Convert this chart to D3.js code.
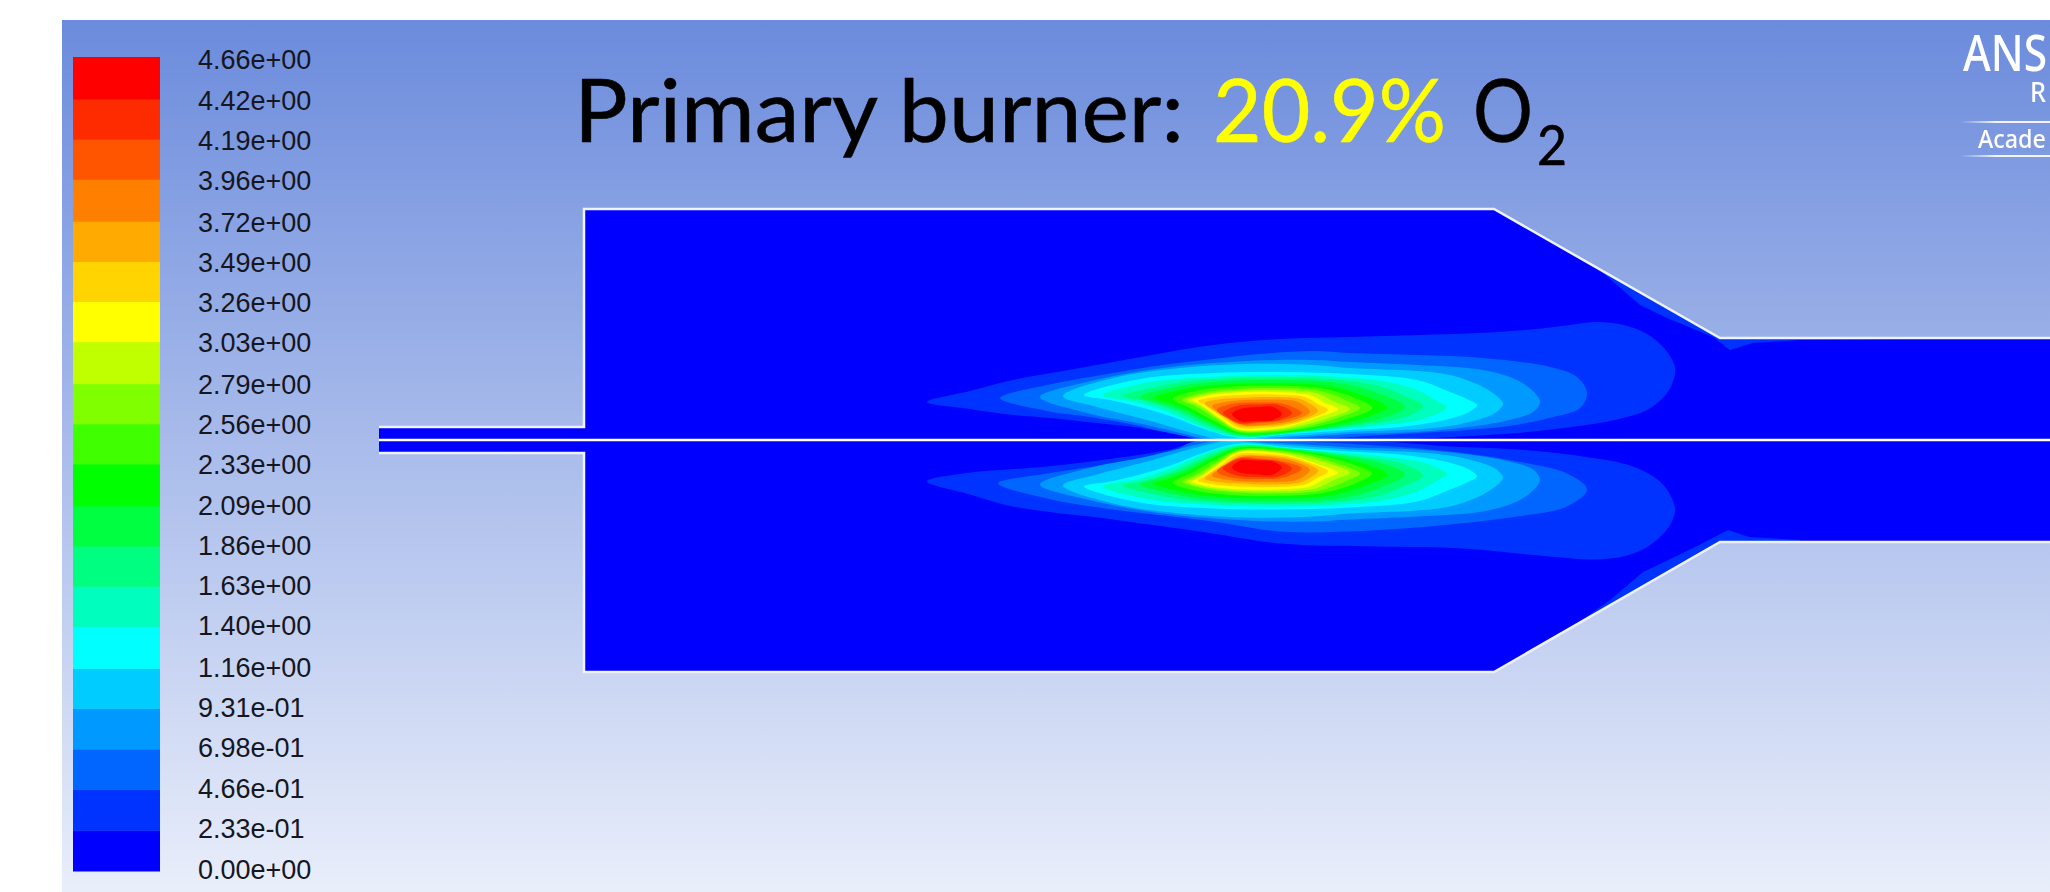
<!DOCTYPE html>
<html>
<head>
<meta charset="utf-8">
<script src="https://cdn.jsdelivr.net/npm/d3@7"></script>
<style>
  html, body { margin: 0; padding: 0; background: #fff; overflow: hidden; }
  svg { display: block; }
</style>
</head>
<body>
<div id="chart"></div>
<script>
// contour levels, bottom to top, as they are printed beside the colour bar
var levelLabels = ["0.00e+00", "2.33e-01", "4.66e-01", "6.98e-01", "9.31e-01", "1.16e+00", "1.40e+00",
  "1.63e+00", "1.86e+00", "2.09e+00", "2.33e+00", "2.56e+00", "2.79e+00", "3.03e+00", "3.26e+00",
  "3.49e+00", "3.72e+00", "3.96e+00", "4.19e+00", "4.42e+00", "4.66e+00"];

var bandColors = ["#0000ff", "#0033ff", "#0066ff", "#0099ff", "#00ccff", "#00ffff", "#00ffbf",
  "#00ff80", "#00ff40", "#00ff00", "#40ff00", "#80ff00", "#bfff00", "#ffff00", "#ffd400",
  "#ffaa00", "#ff8000", "#ff5500", "#ff2b00", "#ff0000"];

// burner walls as [axial, radius]
var upperWall = [[0, 13], [205, 13], [205, 231], [1115, 231], [1341, 102], [1671, 102]];
var lowerWall = [[0, 13], [205, 13], [205, 232], [1115, 232], [1341, 102], [1671, 102]];

// thin band that hugs the cone wall
var upperSliver = [[1218, 172], [1238, 155], [1261, 135], [1288, 122], [1334, 103], [1351, 90], [1374, 97],
  [1421, 100], [1521, 101], [1521, 120], [1218, 190]];
var lowerSliver = [[1196, 185], [1231, 160], [1264, 132], [1304, 113], [1324, 103], [1349, 90], [1370, 97],
  [1421, 100], [1421, 120], [1300, 200], [1196, 200]];

// contour outlines, [axial, radius], one per colour above the base blue
var upperContours = [
  [[548,38],[591,49],[634,60],[684,69],[734,78],[784,87],[834,95],[901,101],[971,103],[1041,105],[1098,107],[1158,111],[1191,115],[1218,118],[1245,115],[1268,106],[1285,92],[1295,76],[1296,66],[1288,47],[1268,30],[1240,21],[1214,16],[1138,7],[1071,3],[1001,0],[821,0],[801,5],[761,12],[718,17],[671,22],[634,25],[591,31]],
  [[621,42],[668,55],[711,63],[751,70],[791,76],[834,81],[881,86],[934,89],[971,87],[1038,85],[1104,82],[1171,73],[1198,63],[1208,47],[1201,32],[1170,22],[1130,14],[1088,10],[1004,5],[921,0],[826,0],[811,3],[781,9],[751,16],[711,23],[668,29]],
  [[661,43],[708,58],[784,72],[868,79],[934,80],[971,78],[1038,75],[1104,70],[1138,60],[1155,48],[1161,38],[1154,28],[1130,20],[1104,15],[1038,8],[971,6],[911,2],[836,0],[818,3],[768,15],[708,27]],
  [[684,44],[734,62],[801,72],[868,76],[934,75],[971,72],[1038,69],[1071,65],[1104,53],[1120,42],[1124,36],[1116,27],[1090,18],[1054,12],[971,8],[901,3],[846,0],[821,5],[768,20],[718,33]],
  [[705,45],[761,61],[834,67],[894,68],[971,66],[1038,60],[1071,48],[1090,40],[1098,35],[1090,28],[1066,20],[1021,13],[971,10],[911,6],[861,2],[828,10],[794,23],[761,33],[731,40]],
  [[724,45],[771,58],[811,62],[894,65],[961,63],[1004,59],[1038,50],[1060,38],[1068,33],[1048,22],[1004,15],[921,8],[861,3],[828,11],[794,26],[761,37]],
  [[744,44],[786,55],[821,60],[894,62.5],[961,60],[1004,53],[1026,44],[1044,34],[1026,23],[981,15],[921,8],[861,4],[831,13],[796,29],[766,39]],
  [[761,43],[796,53],[831,58],[894,60],[961,57],[996,48],[1026,33],[1000,21],[955,13],[905,7],[861,5],[833,15],[801,30],[776,38]],
  [[774,42],[806,51],[836,55],[894,57],[951,54],[986,44],[1008,33],[985,22],[945,13],[900,7],[861,6],[835,16],[806,31],[786,38]],
  [[794,41],[816,49],[846,53],[894,54.5],[946,51],[976,42],[993,32],[968,21],[935,13],[894,7.5],[861,7.5],[837,18],[811,32]],
  [[803,40],[824,47],[851,50.5],[894,52],[941,49],[966,40],[981,32],[958,22],[930,14],[894,9],[859,9],[839,20],[816,34]],
  [[808,40],[828,46],[853,49],[894,50],[936,47],[956,38],[971,31],[950,22],[925,15],[894,10],[859,10],[839,22],[819,35]],
  [[813,40],[831,45],[856,47.5],[894,48],[931,45],[946,37],[959,31],[940,23],[915,15],[894,11],[859,11],[839,23],[821,36]],
  [[819,39],[836,43],[859,45],[894,45.5],[926,43],[939,36],[949,30],[930,21],[910,15],[890,12.5],[859,12.5],[843,23],[827,34]],
  [[826,37],[839,40.5],[861,42],[894,43],[921,41],[933,35],[939,29],[922,20],[900,15],[880,14],[861,14],[846,23],[833,31]],
  [[833,34],[846,38],[866,40],[894,40.5],[916,39],[926,34],[931,28],[915,20],[895,16],[864,15],[849,23]],
  [[838,30],[852,36],[880,37.5],[905,36],[923,27],[905,20],[880,17],[861,16],[848,22]],
  [[844,27],[857,34],[880,35.5],[900,35],[913,27],[900,20],[880,18],[861,17],[850,22]],
  [[853,26],[861,31],[880,33],[894,33],[903,26],[894,20],[876,19],[861,19]]
];

// the two outer bands differ enough below the axis to get their own outlines
var lowerOuterContours = [
  [[548,40],[584,32],[668,25],[734,17],[791,8],[811,2],[826,0],[1001,0],[1071,5],[1138,8],[1204,15],[1254,25],[1281,40],[1293,57],[1296,70],[1290,85],[1272,103],[1248,114],[1218,118],[1171,115],[1084,107],[1001,105],[901,102],[834,92],[734,78],[634,65],[591,53]],
  [[619,42],[668,32],[734,22],[794,10],[815,0],[921,0],[1071,10],[1138,20],[1188,32],[1208,48],[1188,65],[1138,75],[1071,83],[971,90],[901,90],[834,80],[734,68],[668,57]]
];

var width = 2050;
var height = 892;
var axisY = 440;

var svg = d3.select("#chart")
  .append("svg")
  .attr("width", width)
  .attr("height", height);

var defs = svg.append("defs");

var bg = defs.append("linearGradient")
  .attr("id", "bg")
  .attr("x1", 0).attr("y1", 0)
  .attr("x2", 0).attr("y2", 1);
bg.append("stop").attr("offset", "0%").attr("stop-color", "#6b8bdc");
bg.append("stop").attr("offset", "100%").attr("stop-color", "#e9eefa");

var fade = defs.append("linearGradient").attr("id", "fade");
fade.append("stop").attr("offset", "0%").attr("stop-color", "#fff").attr("stop-opacity", 0);
fade.append("stop").attr("offset", "40%").attr("stop-color", "#fff").attr("stop-opacity", 0.9);
fade.append("stop").attr("offset", "100%").attr("stop-color", "#fff").attr("stop-opacity", 0.9);

defs.append("filter").attr("id", "soft")
  .append("feGaussianBlur").attr("stdDeviation", 0.6);

svg.append("rect")
  .attr("x", 62)
  .attr("y", 20)
  .attr("width", width - 62)
  .attr("height", height - 20)
  .attr("fill", "url(#bg)");

// colour bar
var levels = levelLabels.map(Number);
var barY = d3.scaleLinear().domain([0, 4.66]).range([871, 57]);
var labelY = d3.scaleLinear().domain([0, 4.66]).range([870, 60]);

svg.selectAll("rect.band")
  .data(bandColors)
  .enter()
  .append("rect")
  .attr("class", "band")
  .attr("x", 73)
  .attr("width", 87)
  .attr("y", function (d, i) { return barY(levels[i + 1]); })
  .attr("height", function (d, i) { return barY(levels[i]) - barY(levels[i + 1]) + 0.5; })
  .attr("fill", function (d) { return d; });

var legendAxis = svg.append("g")
  .attr("transform", "translate(198,0)")
  .call(d3.axisRight(labelY)
    .tickValues(levels)
    .tickSize(0)
    .tickPadding(0)
    .tickFormat(function (d) { return levelLabels[levels.indexOf(d)]; }));
legendAxis.select(".domain").remove();
legendAxis.selectAll("text")
  .attr("dy", "0.3em")
  .style("font-family", "'Liberation Sans', sans-serif")
  .style("font-size", "27px")
  .style("fill", "#16161f");

// burner
var x = d3.scaleLinear().domain([0, 1671]).range([379, 2050]);
var yUp = d3.scaleLinear().domain([0, 231]).range([axisY, axisY - 231]);
var yDown = d3.scaleLinear().domain([0, 231]).range([axisY, axisY + 231]);
// the lower flame sits a touch further off the axis than the upper one
var yDownField = d3.scaleLinear().domain([0, 231]).range([axisY + 1.5, axisY + 232.5]);

function lineFor(yScale) {
  return d3.line()
    .x(function (d) { return x(d[0]); })
    .y(function (d) { return yScale(d[1]); });
}

var axisEnd = [[1671, 0], [0, 0]];
var halves = [
  { id: "upper", wall: upperWall, sliver: upperSliver, y: yUp, fieldY: yUp, contours: upperContours },
  { id: "lower", wall: lowerWall, sliver: lowerSliver, y: yDown, fieldY: yDownField,
    contours: upperContours.map(function (c, i) { return lowerOuterContours[i] || c; }) }
];

var smooth = d3.curveCatmullRomClosed.alpha(0.5);

halves.forEach(function (h) {
  var outline = h.wall.concat(axisEnd);
  var line = lineFor(h.y);

  defs.append("clipPath")
    .attr("id", "clip-" + h.id)
    .append("path")
    .attr("d", line(outline) + "Z");

  var field = svg.append("g").attr("clip-path", "url(#clip-" + h.id + ")");

  field.append("path")
    .attr("d", line(outline) + "Z")
    .attr("fill", bandColors[0]);

  field.append("path")
    .attr("d", line(h.sliver) + "Z")
    .attr("fill", bandColors[1]);

  field.selectAll("path.contour")
    .data(h.contours)
    .enter()
    .append("path")
    .attr("class", "contour")
    .attr("d", lineFor(h.fieldY).curve(smooth))
    .attr("fill", function (d, i) { return bandColors[i + 1]; });

  svg.append("path")
    .attr("d", line(h.wall))
    .attr("fill", "none")
    .attr("stroke", "#eef2fd")
    .attr("stroke-width", 2.5);
});

svg.append("line")
  .attr("x1", x(0))
  .attr("x2", x(1671))
  .attr("y1", yUp(0))
  .attr("y2", yUp(0))
  .attr("stroke", "#ffffff")
  .attr("stroke-width", 2.5);

// squeeze a text sideways so it takes the width it has in the screenshot
function fitWidth(sel, px, py, w) {
  var natural = sel.node().getComputedTextLength();
  sel.attr("transform", "translate(" + px + "," + py + ") scale(" + (w / natural) + ",1)");
}

var titleParts = [
  { text: "Primary burner:", x: 574, y: 142, w: 610, size: 87, color: "#000" },
  { text: "20.9%", x: 1213, y: 142, w: 233, size: 87, color: "#ffff00" },
  { text: "O", x: 1473, y: 142, w: 60, size: 87, color: "#000" },
  { text: "2", x: 1537, y: 165, w: 30, size: 56, color: "#000" }
];
titleParts.forEach(function (d) {
  var t = svg.append("text")
    .style("font-family", "Lato, sans-serif")
    .style("font-size", d.size + "px")
    .style("fill", d.color)
    .style("stroke", d.color)
    .style("stroke-width", 0.6)
    .text(d.text);
  fitWidth(t, d.x, d.y, d.w);
});

// logo, only what is left of it at the right edge of the screenshot
var logo = svg.append("g")
  .attr("filter", "url(#soft)")
  .style("font-family", "'Noto Sans', sans-serif")
  .style("font-weight", 500)
  .style("fill", "#fff");
fitWidth(logo.append("text").style("font-size", "50px").text("ANS"), 1963, 71, 84);
fitWidth(logo.append("text").style("font-size", "28px").text("R"), 2030, 102, 16);
fitWidth(logo.append("text").style("font-size", "25px").text("Acade"), 1978, 148, 68);
[122, 156].forEach(function (yy) {
  svg.append("rect")
    .attr("x", 1960)
    .attr("y", yy - 1)
    .attr("width", 90)
    .attr("height", 2)
    .attr("fill", "url(#fade)");
});
</script>
</body>
</html>
